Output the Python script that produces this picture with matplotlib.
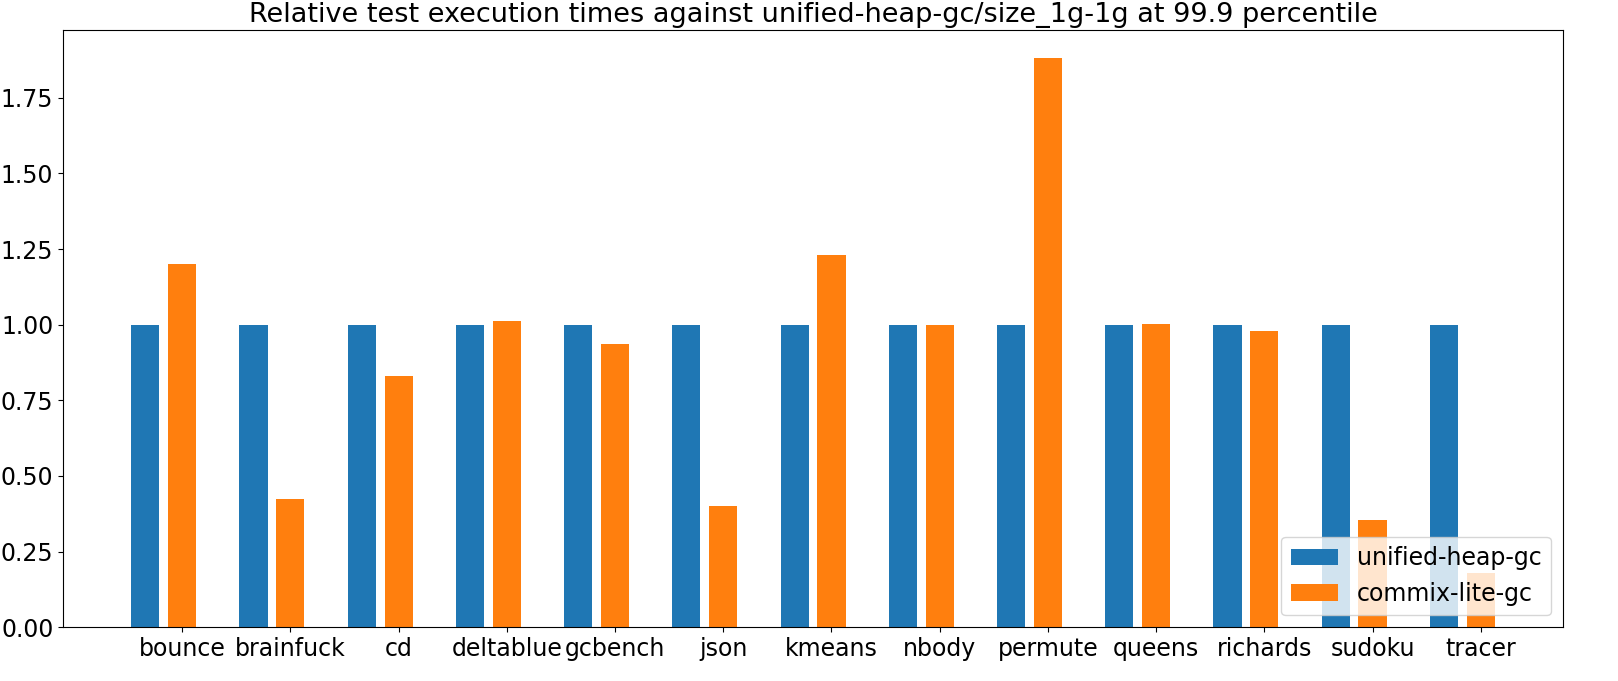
import matplotlib
matplotlib.use("Agg")
import matplotlib.pyplot as plt
import numpy as np

benchmarks = ["bounce", "brainfuck", "cd", "deltablue", "gcbench", "json", "kmeans",
              "nbody", "permute", "queens", "richards", "sudoku", "tracer"]
unified = [1.0] * 13
commix = [1.20, 0.425, 0.83, 1.013, 0.935, 0.40, 1.23, 1.0, 1.88, 1.003, 0.978, 0.355, 0.18]

plt.rcParams['font.size'] = 17
fig, ax = plt.subplots(figsize=(16.18, 6.81), dpi=100)
x = np.arange(len(benchmarks))
w = 0.26
ax.bar(x, unified, w, label="unified-heap-gc")
ax.bar(x + 0.34, commix, w, label="commix-lite-gc")
ax.set_xticks(x + 0.34)
ax.set_xticklabels(benchmarks)
ax.set_title("Relative test execution times against unified-heap-gc/size_1g-1g at 99.9 percentile", fontsize=19.5)
ax.legend(loc="lower right")
fig.subplots_adjust(left=0.039, right=0.966, top=0.956, bottom=0.079)
fig.savefig("out.png")
